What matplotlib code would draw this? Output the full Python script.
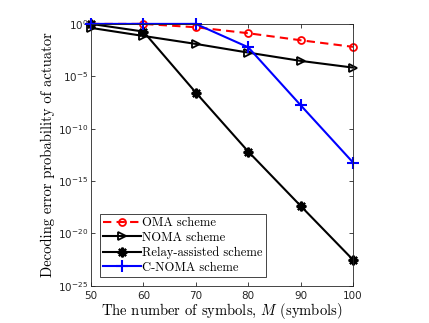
import math
import matplotlib
matplotlib.use("Agg")
import matplotlib.pyplot as plt
import matplotlib.ticker as ticker

# data (log10 of error probability)
symbols = [50, 60, 70, 80, 90, 100]
omaExp = [0.0, 0.0, -0.32, -0.89, -1.56, -2.19]
nomaExp = [-0.38, -1.15, -1.91, -2.74, -3.53, -4.17]
relayExp = [0.0, -0.73, -6.55, -12.18, -17.37, -22.52]
cnomaExp = [0.0, 0.0, 0.0, -2.23, -7.76, -13.23]

xTicks = [50, 60, 70, 80, 90, 100]
yTickExps = [0, -5, -10, -15, -20, -25]

plt.rcParams['mathtext.fontset'] = 'cm'
labelFont = 'cmr10'

def toProb(exps):
    '''convert list of exponents into probabilities'''
    return [10 ** e for e in exps]

def powerLabel(v, pos):
    '''tick label of the form 10^k'''
    return r'$\mathregular{10^{%d}}$' % round(math.log10(v))

fig = plt.figure(figsize=(4.29, 3.23), dpi=100)
ax = fig.add_axes([0.212, 0.115, 0.611, 0.811])

ax.plot(symbols, toProb(omaExp), color='red', linestyle='--', dashes=(4, 2.5), linewidth=1.5,
        marker='o', markersize=5, markerfacecolor='none', markeredgewidth=1.3,
        clip_on=False, label='OMA scheme')
ax.plot(symbols, toProb(nomaExp), color='black', linewidth=1.5,
        marker='>', markersize=6, markerfacecolor='none', markeredgewidth=1.3,
        clip_on=False, label='NOMA scheme')
ax.plot(symbols, toProb(relayExp), color='black', linewidth=1.5,
        marker=(8, 2, 0), markersize=7, markeredgewidth=1.6,
        clip_on=False, label='Relay-assisted scheme')
ax.plot(symbols, toProb(cnomaExp), color='blue', linewidth=1.5,
        marker='+', markersize=8, markeredgewidth=1.5,
        clip_on=False, label='C-NOMA scheme')

ax.set_yscale('log')
ax.set_xlim(50, 100)
ax.set_ylim(1e-25, 1)
ax.set_xticks(xTicks)
ax.set_yticks([10.0 ** e for e in yTickExps])
ax.yaxis.set_minor_locator(ticker.NullLocator())
ax.yaxis.set_major_formatter(ticker.FuncFormatter(powerLabel))

for side in ax.spines.values():
    side.set_color('#262626')
    side.set_linewidth(0.6)
ax.tick_params(which='both', direction='in', top=True, right=True, length=3,
               width=0.6, color='#262626', labelsize=7.5, labelcolor='#262626', pad=2)
ax.tick_params(axis='x', pad=4)

ax.set_xlabel(r'The number of symbols, $M$ (symbols)', fontfamily=labelFont, fontsize=10.5, labelpad=0)
ax.set_ylabel('Decoding error probability of actuator', fontfamily=labelFont, fontsize=10.5, labelpad=2)

leg = ax.legend(loc='lower left', bbox_to_anchor=(0.035, 0.035), prop={'family': labelFont, 'size': 9},
                fancybox=False, edgecolor='#262626', framealpha=1, handlelength=3.0,
                handletextpad=0.1, borderpad=0.25, labelspacing=0.2, borderaxespad=0)
leg.get_frame().set_linewidth(0.6)

fig.savefig('out.png', dpi=100)
